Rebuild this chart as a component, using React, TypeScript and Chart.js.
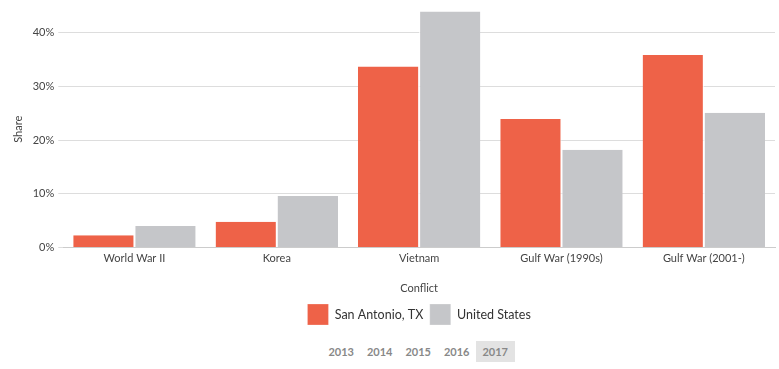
import React, { useEffect, useRef } from "react";
import { Chart, registerables } from "chart.js";

Chart.register(...registerables);

const categories = ["World War II", "Korea", "Vietnam", "Gulf War (1990s)", "Gulf War (2001-)"];
const sanAntonio = [2.3, 4.8, 33.7, 23.9, 35.8];
const unitedStates = [4.0, 9.6, 43.9, 18.2, 25.1];
const years = ["2013", "2014", "2015", "2016", "2017"];
const selectedYear = "2017";

const FONT = "Lato, 'Open Sans', sans-serif";

export default function App() {
  const canvasRef = useRef<HTMLCanvasElement | null>(null);

  useEffect(() => {
    const ctx = canvasRef.current;
    if (!ctx) return;
    const chart = new Chart(ctx, {
      type: "bar",
      data: {
        labels: categories,
        datasets: [
          {
            label: "San Antonio, TX",
            data: sanAntonio,
            backgroundColor: "#EE6248",
            borderColor: "#ffffff",
            borderWidth: { right: 1 } as any,
            borderSkipped: "bottom",
          },
          {
            label: "United States",
            data: unitedStates,
            backgroundColor: "#C5C6C9",
            borderColor: "#ffffff",
            borderWidth: { left: 1 } as any,
            borderSkipped: "bottom",
          },
        ],
      },
      options: {
        animation: false,
        responsive: false,
        maintainAspectRatio: false,
        layout: { padding: { top: 11, right: 4, left: 6, bottom: 2 } },
        datasets: { bar: { categoryPercentage: 0.86, barPercentage: 1 } },
        plugins: {
          tooltip: { enabled: false },
          legend: {
            position: "bottom",
            fullSize: false,
            labels: {
              boxWidth: 21,
              boxHeight: 21,
              padding: 6.5,
              color: "#333",
              font: { family: FONT, size: 12.5 },
            },
          },
        },
        scales: {
          x: {
            grid: { display: false, drawTicks: false },
            border: { color: "#cccccc" },
            ticks: { color: "#444", font: { family: FONT, size: 11 }, padding: 4 },
            title: {
              display: true,
              text: "Conflict",
              color: "#444",
              font: { family: FONT, size: 11 },
              padding: { top: 13, bottom: 2.5 },
            },
          },
          y: {
            min: 0,
            max: 44,
            border: { display: false },
            grid: { color: "#dddddd", tickLength: 5 },
            ticks: {
              stepSize: 10,
              includeBounds: false,
              color: "#444",
              padding: 4,
              font: { family: FONT, size: 11 },
              callback: (v: any) => v + "%",
            },
            title: {
              display: true,
              text: "Share",
              color: "#444",
              font: { family: FONT, size: 11 },
              padding: { top: 5.5, bottom: 4 },
            },
          },
        },
      },
    });
    return () => chart.destroy();
  }, []);

  return (
    <div style={{ position: "absolute", left: 0, top: 0, width: 779, height: 369, background: "#fff", overflow: "hidden" }}>
      <canvas ref={canvasRef} width={779} height={337} style={{ display: "block" }} />
      <div
        style={{
          position: "absolute",
          top: 341,
          left: 322,
          display: "flex",
          fontFamily: FONT,
          fontSize: 11,
          fontWeight: 700,
          color: "#888",
        }}
      >
        {years.map((y) => (
          <span
            key={y}
            style={{
              display: "inline-block",
              width: 38.5,
              height: 21,
              lineHeight: "21px",
              textAlign: "center",
              background: y === selectedYear ? "#e3e3e3" : "transparent",
            }}
          >
            {y}
          </span>
        ))}
      </div>
    </div>
  );
}
